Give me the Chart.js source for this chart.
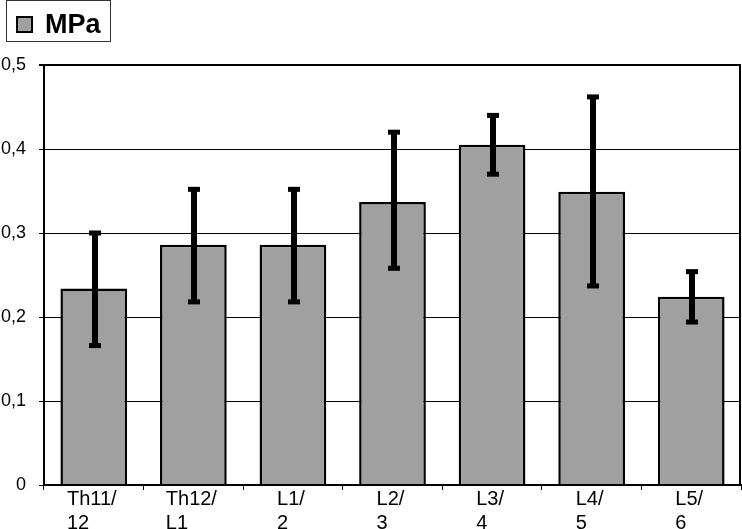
<!DOCTYPE html>
<html>
<head>
<meta charset="utf-8">
<script src="https://cdn.jsdelivr.net/npm/chart.js@4/dist/chart.umd.min.js"></script>
<style>
html,body{margin:0;padding:0;background:#fff;}
#wrap{width:742px;height:529px;position:relative;}
</style>
</head>
<body>
<div id="wrap"><canvas id="c" width="742" height="529"></canvas></div>
<script>
const categories = [["Th11/","12"],["Th12/","L1"],["L1/","2"],["L2/","3"],["L3/","4"],["L4/","5"],["L5/","6"]];
const seriesName = "MPa";
const values = [0.234, 0.286, 0.286, 0.337, 0.405, 0.349, 0.224];
const errHigh = [0.300, 0.352, 0.352, 0.420, 0.440, 0.462, 0.254];
const errLow  = [0.166, 0.218, 0.218, 0.258, 0.370, 0.237, 0.194];
const yTicks = [0, 0.1, 0.2, 0.3, 0.4, 0.5];

const FONT = "Arial, 'Liberation Sans', sans-serif";
const GREY = "#a0a0a0";

const errorBars = {
  id: 'errorBars',
  afterDatasetsDraw(chart) {
    const ctx = chart.ctx, y = chart.scales.y;
    const meta = chart.getDatasetMeta(0);
    ctx.save();
    ctx.fillStyle = '#000';
    meta.data.forEach((bar, i) => {
      const x = Math.round(bar.x) + 1;
      const yt = y.getPixelForValue(errHigh[i]);
      const yb = y.getPixelForValue(errLow[i]);
      ctx.fillRect(x - 3, yt, 6, yb - yt);
      ctx.fillRect(x - 6, yt - 2.5, 12, 5);
      ctx.fillRect(x - 6, yb - 2.5, 12, 5);
    });
    ctx.restore();
  }
};

const frameAndLabels = {
  id: 'frameAndLabels',
  afterDraw(chart) {
    const ctx = chart.ctx, a = chart.chartArea, xs = chart.scales.x;
    ctx.save();
    // frame
    ctx.strokeStyle = '#000';
    ctx.lineWidth = 2;
    ctx.beginPath();
    ctx.moveTo(a.left, a.top); ctx.lineTo(a.right - 1, a.top);
    ctx.moveTo(a.right - 1, a.top); ctx.lineTo(a.right - 1, a.bottom);
    ctx.moveTo(a.left, a.bottom); ctx.lineTo(a.right, a.bottom);
    ctx.stroke();
    // x labels, lines left-aligned within a centered block
    ctx.font = "20px " + FONT;
    ctx.fillStyle = '#000';
    ctx.textBaseline = 'alphabetic';
    ctx.textAlign = 'left';
    categories.forEach((lines, i) => {
      const cx = xs.getPixelForValue(i);
      const w = Math.max(...lines.map(l => ctx.measureText(l).width));
      const x0 = cx - w / 2 - 2;
      lines.forEach((l, j) => ctx.fillText(l, x0, 505 + j * 24));
    });
    // legend
    ctx.lineWidth = 1;
    ctx.strokeStyle = '#333';
    ctx.strokeRect(6.5, 0.5, 104, 41);
    ctx.fillStyle = GREY;
    ctx.fillRect(16, 16, 17, 17);
    ctx.lineWidth = 2;
    ctx.strokeStyle = '#000';
    ctx.strokeRect(17, 17, 15, 15);
    ctx.fillStyle = '#000';
    ctx.font = "bold 27px " + FONT;
    ctx.fillText(seriesName, 45, 33);
    ctx.restore();
  }
};

new Chart(document.getElementById('c'), {
  type: 'bar',
  data: {
    labels: categories.map(c => c.join(' ')),
    datasets: [{
      label: seriesName,
      data: values,
      backgroundColor: GREY,
      borderColor: '#000',
      borderWidth: 2.5,
      barPercentage: 0.67,
      categoryPercentage: 1.0
    }]
  },
  options: {
    responsive: false,
    animation: false,
    devicePixelRatio: 1,
    layout: { padding: { top: 65, right: 1, left: 0, bottom: 0 } },
    plugins: { legend: { display: false }, tooltip: { enabled: false } },
    scales: {
      x: {
        offset: true,
        grid: { display: true, offset: true, drawOnChartArea: false, tickLength: 5, color: '#000', lineWidth: 1 },
        border: { display: true, color: '#000', width: 2 },
        ticks: { color: 'rgba(0,0,0,0)', font: { size: 18, family: FONT } },
        afterFit(s) { s.height = 44; }
      },
      y: {
        min: 0, max: 0.5,
        afterBuildTicks(s) { s.ticks = yTicks.map(v => ({ value: v })); },
        grid: {
          color: '#000',
          lineWidth: ctx => (ctx.tick && (ctx.tick.value === 0.5)) ? 2 : 1,
          tickLength: 5
        },
        border: { display: true, color: '#000', width: 2 },
        ticks: {
          color: '#000',
          padding: 13,
          font: { size: 18, family: FONT },
          callback: v => String(Math.round(v * 10) / 10).replace('.', ',')
        },
        afterFit(s) { s.width = 44; }
      }
    }
  },
  plugins: [errorBars, frameAndLabels]
});
</script>
</body>
</html>
